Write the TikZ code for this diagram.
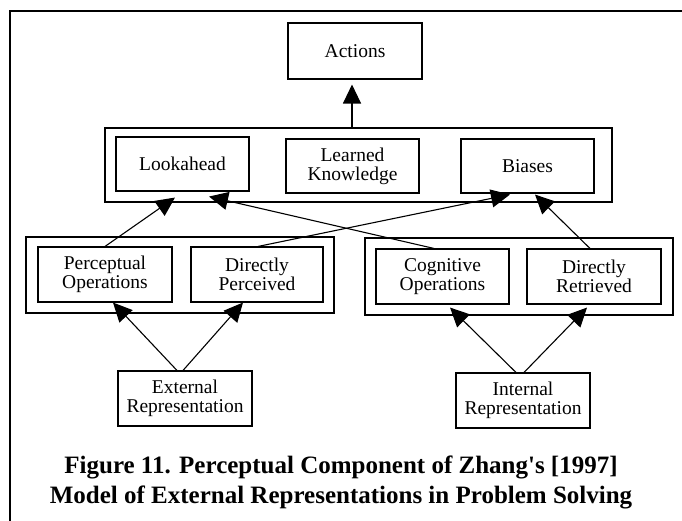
\documentclass[tikz,border=0pt]{standalone}
\usepackage{fontspec}
\setmainfont{Liberation Serif}
\newfontfamily\capfont{Liberation Serif}[Ligatures=TeXOff]
\usetikzlibrary{arrows.meta}
\begin{document}
\begin{tikzpicture}[x=1pt,y=-1pt,
  box/.style={draw, line width=1.1pt, inner sep=0pt, align=center,
    minimum width=133pt, minimum height=55pt,
    font=\fontsize{19.5}{19}\selectfont},
  group/.style={draw, line width=1.1pt, inner sep=0pt},
  arr/.style={line width=1.1pt, -{Triangle[length=19pt,width=18pt]}},
  frame/.style={line width=2pt}]
\useasboundingbox (0,0) rectangle (682,521);

% outer frame (open on the right and bottom)
\draw[frame] (10,521) -- (10,11) -- (682,11);

% top level
\node[box, minimum width=134pt, minimum height=56pt] (act) at (355,51) {Actions};

% middle group
\node[group, minimum width=507pt, minimum height=74pt] (tg) at (358.5,165) {};
\node[box, minimum height=54pt] (look)  at (182.5,164) {Lookahead};
\node[box, minimum height=54pt] (learn) at (352.5,166) {Learned\\Knowledge};
\node[box, minimum height=54pt] (bias)  at (527.5,166) {Biases};

% lower groups
\node[group, minimum width=308pt, minimum height=76pt] (lg) at (180,275) {};
\node[box, minimum width=134pt] (perc) at (105,274.5) {Perceptual\\Operations};
\node[box, minimum width=132pt] (dper) at (257,274.5) {Directly\\Perceived};

\node[group, minimum width=308pt, minimum height=77pt] (rg) at (519,276.5) {};
\node[box] (cog)  at (442.5,276.5) {Cognitive\\Operations};
\node[box, minimum width=134pt] (dret) at (594,276.5) {Directly\\Retrieved};

% representations
\node[box, minimum width=134pt] (ext) at (185,398.5) {External\\Representation};
\node[box, minimum width=134pt] (int) at (523,400.5) {Internal\\Representation};

% connectors
\draw[arr] ([xshift=-6.5pt]tg.north) -- ([xshift=-3pt,yshift=-5pt]act.south);

\draw[arr] (perc.north) -- ([xshift=-7.5pt,yshift=-6pt]look.south);
\draw[arr] ([xshift=-8.5pt]cog.north) -- ([xshift=26.5pt,yshift=-5pt]look.south);
\draw[arr] ([xshift=1pt]dper.north) -- ([xshift=-17.5pt,yshift=-1pt]bias.south);
\draw[arr] ([xshift=-4pt]dret.north) -- ([xshift=7.5pt,yshift=-1pt]bias.south);

\draw[arr] ([xshift=-8pt]ext.north) -- ([xshift=8pt]perc.south);
\draw[arr] ([xshift=-2pt]ext.north) -- ([xshift=-14pt]dper.south);
\draw[arr] ([xshift=-7pt]int.north) -- ([xshift=7.5pt,yshift=-3pt]cog.south);
\draw[arr] ([xshift=1pt]int.north) -- ([xshift=-7pt,yshift=-3pt]dret.south);

% caption
\node[font=\capfont\bfseries\fontsize{25}{30}\selectfont, align=center, inner sep=0pt]
  (cap) at (341,482) {Figure 11. Perceptual Component of Zhang's [1997]\\
  Model of External Representations in Problem Solving};
\end{tikzpicture}
\end{document}
